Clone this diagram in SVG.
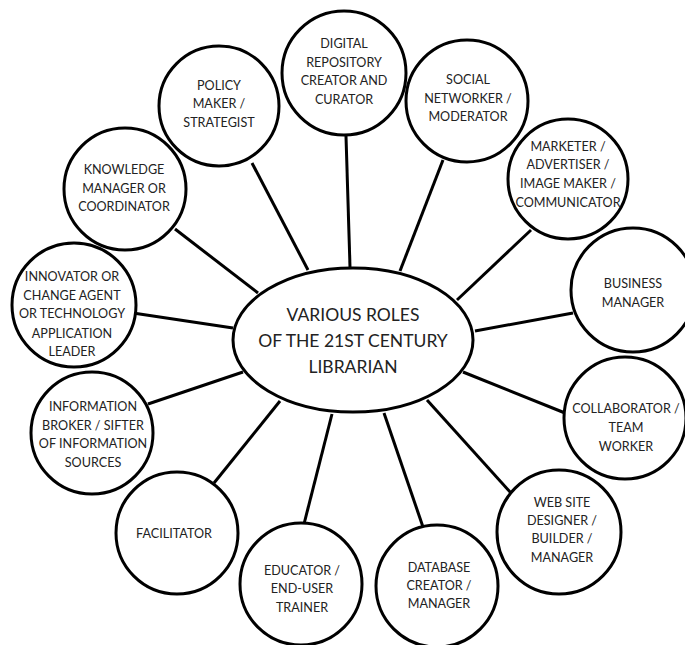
<svg xmlns="http://www.w3.org/2000/svg" width="685" height="645" viewBox="0 0 685 645">
<style>
.n{fill:#fff;stroke:#000;stroke-width:3}
.c line{stroke:#000;stroke-width:3}
text{font-family:Lato,"Open Sans","Liberation Sans",sans-serif;font-size:12.6px;fill:#222;text-anchor:middle}
.big{font-size:17.5px}
</style>
<rect width="685" height="645" fill="#fff"/>
<g id="connectors" class="c">
<line x1="252" y1="163" x2="308" y2="270"/>
<line x1="175" y1="229" x2="258" y2="293"/>
<line x1="133" y1="313" x2="233" y2="328"/>
<line x1="346" y1="136" x2="350" y2="267"/>
<line x1="443" y1="160" x2="400" y2="271"/>
<line x1="531" y1="230" x2="457" y2="300"/>
<line x1="573" y1="313" x2="475" y2="331"/>
<line x1="463" y1="372" x2="565" y2="413"/>
<line x1="427" y1="400" x2="511" y2="493"/>
<line x1="384" y1="413" x2="423" y2="527"/>
<line x1="332" y1="414" x2="304" y2="524"/>
<line x1="280" y1="401" x2="214" y2="483"/>
<line x1="243" y1="372" x2="148" y2="404"/>
</g>
<g id="center">
<ellipse class="n" cx="353" cy="340" rx="120" ry="72"/>
<text class="big"><tspan x="353" y="321">VARIOUS ROLES</tspan><tspan x="353" y="347">OF THE 21ST CENTURY</tspan><tspan x="353" y="373">LIBRARIAN</tspan></text>
</g>
<g id="digital">
<circle class="n" cx="344" cy="73" r="62"/>
<text><tspan x="344" y="48">DIGITAL</tspan><tspan x="344" y="67">REPOSITORY</tspan><tspan x="344" y="85">CREATOR AND</tspan><tspan x="344" y="104">CURATOR</tspan></text>
</g>
<g id="policy">
<circle class="n" cx="219" cy="106" r="60"/>
<text><tspan x="219" y="90">POLICY</tspan><tspan x="219" y="108">MAKER /</tspan><tspan x="219" y="127">STRATEGIST</tspan></text>
</g>
<g id="social">
<circle class="n" cx="467" cy="101" r="61"/>
<text><tspan x="468" y="84">SOCIAL</tspan><tspan x="468" y="103">NETWORKER /</tspan><tspan x="468" y="121">MODERATOR</tspan></text>
</g>
<g id="marketer">
<circle class="n" cx="568" cy="179" r="60"/>
<text><tspan x="568" y="151">MARKETER /</tspan><tspan x="568" y="169">ADVERTISER /</tspan><tspan x="568" y="188">IMAGE MAKER /</tspan><tspan x="568" y="207">COMMUNICATOR</tspan></text>
</g>
<g id="business">
<circle class="n" cx="633" cy="290" r="62"/>
<text><tspan x="633" y="288">BUSINESS</tspan><tspan x="633" y="307">MANAGER</tspan></text>
</g>
<g id="knowledge">
<circle class="n" cx="125" cy="189" r="61"/>
<text><tspan x="124" y="174">KNOWLEDGE</tspan><tspan x="124" y="193">MANAGER OR</tspan><tspan x="124" y="211">COORDINATOR</tspan></text>
</g>
<g id="innovator">
<circle class="n" cx="74" cy="305" r="62"/>
<text><tspan x="72" y="281">INNOVATOR OR</tspan><tspan x="72" y="300">CHANGE AGENT</tspan><tspan x="72" y="318">OR TECHNOLOGY</tspan><tspan x="72" y="338">APPLICATION</tspan><tspan x="72" y="356">LEADER</tspan></text>
</g>
<g id="broker">
<circle class="n" cx="92" cy="433" r="61"/>
<text><tspan x="93" y="411">INFORMATION</tspan><tspan x="93" y="430">BROKER / SIFTER</tspan><tspan x="93" y="448">OF INFORMATION</tspan><tspan x="93" y="467">SOURCES</tspan></text>
</g>
<g id="facilitator">
<circle class="n" cx="177" cy="533" r="61"/>
<text><tspan x="174" y="538">FACILITATOR</tspan></text>
</g>
<g id="educator">
<circle class="n" cx="301" cy="584" r="61"/>
<text><tspan x="302" y="575">EDUCATOR /</tspan><tspan x="302" y="593">END-USER</tspan><tspan x="302" y="612">TRAINER</tspan></text>
</g>
<g id="database">
<circle class="n" cx="437" cy="586" r="61"/>
<text><tspan x="439" y="572">DATABASE</tspan><tspan x="439" y="590">CREATOR /</tspan><tspan x="439" y="608">MANAGER</tspan></text>
</g>
<g id="website">
<circle class="n" cx="559" cy="532" r="62"/>
<text><tspan x="562" y="507">WEB SITE</tspan><tspan x="562" y="525">DESIGNER /</tspan><tspan x="562" y="543">BUILDER /</tspan><tspan x="562" y="562">MANAGER</tspan></text>
</g>
<g id="collaborator">
<circle class="n" cx="625" cy="418" r="61"/>
<text><tspan x="626" y="413">COLLABORATOR /</tspan><tspan x="626" y="432">TEAM</tspan><tspan x="626" y="451">WORKER</tspan></text>
</g>
</svg>
